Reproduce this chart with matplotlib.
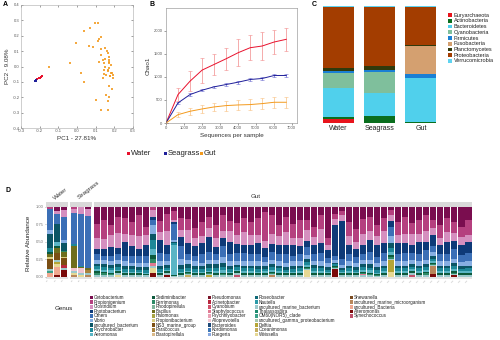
import matplotlib
matplotlib.use("Agg")
import matplotlib.pyplot as plt
from matplotlib.patches import Rectangle
import numpy as np

plt.rcParams.update({
    "font.family": ["Liberation Sans", "DejaVu Sans"],
    "font.size": 4,
    "axes.linewidth": 0.4,
    "xtick.major.width": 0.4,
    "ytick.major.width": 0.4,
    "xtick.major.size": 1.5,
    "ytick.major.size": 1.5,
    "xtick.major.pad": 1,
    "ytick.major.pad": 1,
    "xtick.color": "#555555",
    "ytick.color": "#555555",
})

W, H = 500, 340

WATER = "#e8112d"
SEAGRASS = "#1f1f9a"
GUT = "#f39a1e"

# ---- A: PCoA ----
water_pc1 = [-0.213, -0.205, -0.198, -0.192, -0.187]
water_pc2 = [-0.082, -0.078, -0.074, -0.069, -0.065]
seagrass_pc1 = [-0.225, -0.220, -0.217]
seagrass_pc2 = [-0.097, -0.093, -0.089]
gut_pc1 = [0.113, 0.094, 0.067, 0.040, 0.120, 0.129, 0.115, -0.004, 0.063, 0.085,
           0.129, 0.152, 0.164, 0.129, 0.173, 0.138, 0.170, 0.120, 0.143, 0.173,
           -0.039, 0.152, 0.173, 0.147, 0.164, 0.182, 0.156, 0.178, 0.138, 0.023,
           0.040, 0.188, 0.156, 0.173, 0.102, 0.164, 0.129, 0.164, -0.149, 0.191,
           0.195, 0.170, 0.150, 0.165, 0.180, 0.160, 0.175, 0.185, 0.145, 0.170]
gut_pc2 = [0.281, 0.285, 0.249, 0.234, 0.177, 0.190, 0.169, 0.151, 0.134, 0.130,
           0.112, 0.119, 0.086, 0.076, 0.065, 0.043, 0.043, 0.032, 0.022, 0.022,
           0.022, 0.000, -0.011, -0.022, -0.032, -0.043, -0.054, -0.065, -0.076, -0.043,
           -0.104, -0.147, -0.184, -0.199, -0.216, -0.227, -0.281, -0.285, -0.006, -0.076,
           -0.054, -0.125, 0.050, -0.020, 0.010, 0.100, -0.060, -0.040, -0.050, 0.030]
pc1_ticks = [-0.3, -0.2, -0.1, 0.0, 0.1, 0.2, 0.3]
pc2_ticks = [-0.4, -0.3, -0.2, -0.1, 0.0, 0.1, 0.2, 0.3, 0.4]

# ---- B: rarefaction (Chao1) ----
depth = [0, 670, 1340, 2010, 2680, 3350, 4020, 4690, 5360, 6030, 6700]
water_chao = [0, 616, 906, 1145, 1268, 1391, 1522, 1630, 1667, 1754, 1812]
water_sd = [0, 150, 220, 270, 230, 235, 290, 270, 300, 250, 250]
seagrass_chao = [0, 435, 616, 710, 783, 833, 884, 942, 964, 1029, 1029]
seagrass_sd = [0, 20, 25, 20, 25, 25, 30, 30, 30, 35, 30]
gut_chao = [0, 181, 254, 304, 348, 377, 391, 399, 420, 449, 449]
gut_sd = [0, 60, 80, 90, 95, 110, 110, 110, 120, 120, 120]

# ---- C: phylum composition (%) ----
habitats = ["Water", "Seagrass", "Gut"]
phyla = ["Euryarchaeota", "Actinobacteria", "Bacteroidetes", "Cyanobacteria",
         "Firmicutes", "Fusobacteria", "Planctomycetes", "Proteobacteria",
         "Verrucomicrobia"]
phylum_colors = ["#e8141c", "#0a6e1e", "#50d0ec", "#7fbf9c", "#1a7fd4",
                 "#d4a070", "#303a0c", "#a33d00", "#5fd3f0"]
water_phyla = [3.7, 1.4, 25.0, 12.6, 1.7, 0.0, 2.9, 51.6, 1.1]
seagrass_phyla = [0.0, 5.7, 20.0, 18.0, 2.0, 0.0, 3.1, 50.1, 1.1]
gut_phyla = [0.0, 1.1, 37.1, 0.5, 2.9, 24.0, 1.4, 31.9, 1.1]

# ---- D: genus composition per sample ----
genera = [
    "Cetobacterium", "Propionigenium", "Clostridium", "Photobacterium", "Others",
    "Vibrio", "uncultured_bacterium", "Psychrobacter", "Aeromonas",
    "Sediminibacter", "Ferrimonas", "Rhodopirellula", "Bacillus", "Halomonas",
    "Propionibacterium", "NS3_marine_group", "Paracoccus", "Blastopirellula",
    "Pseudomonas", "Acinetobacter", "Cyanobium", "Staphylococcus",
    "Psychrilyobacter", "Alloprevotella", "Bacteroides", "Kordiimonas", "Ruegeria",
    "Roseobacter", "Nautella", "uncultured_marine_bacterium", "Thalassospira",
    "OM60(NOR5)_clade", "uncultured_gamma_proteobacterium", "Delftia",
    "Oceanimonas", "Weissella",
    "Shewanella", "uncultured_marine_microorganism", "uncultured_Bacteria",
    "Alteromonas", "Synechococcus",
]
genus_colors = [
    "#7a0d4f", "#b5407f", "#d58fbf", "#0e3a78", "#3b6fb6", "#86aee2", "#0b5565", "#1d8898", "#5ab5c5",
    "#0c5a3c", "#2d8a66", "#7fb39a", "#6e6e1e", "#a8a444", "#d9cd80", "#7a4e14", "#a8823e", "#d9b98a",
    "#7a1428", "#b8283e", "#d0506a", "#e07a92", "#eaa0b4", "#f2c4d0", "#1e4a78", "#3f78b8", "#88a8e0",
    "#0f6a78", "#2a9aa8", "#9cc9cc", "#1e8a6e", "#3aa088", "#a6c7ad", "#b5a535", "#c5ad5c", "#e6d894",
    "#7a4a20", "#b8865a", "#f0a890", "#7a0a0a", "#c0506a",
]

water_samples = [
    {1: 3, 4: 30, 5: 5, 6: 21, 7: 5, 9: 3, 12: 4, 14: 3, 15: 15, 29: 3, 31: 3, 38: 5},
    {0: 6, 2: 3, 4: 15, 6: 24, 8: 6, 9: 3, 12: 6, 15: 10, 29: 3, 33: 3, 35: 4, 38: 10, 39: 3},
    {0: 4, 2: 10, 4: 33, 5: 4, 6: 12, 10: 2, 12: 6, 14: 2, 15: 10, 19: 5, 29: 2, 39: 10},
]
seagrass_samples = [
    {1: 3, 2: 6, 4: 44, 7: 3, 12: 32, 23: 4, 29: 3, 35: 2, 37: 3},
    {2: 10, 4: 74, 7: 2, 12: 2, 23: 7, 29: 3, 35: 2},
    {0: 3, 2: 10, 4: 74, 12: 3, 16: 4, 29: 3, 37: 3},
]
gut_cols = [0, 1, 2, 3, 4, 5, 6, 7, 8, 9, 10, 29]
gut_rows = [
    [24, 20, 16, 8, 8, 5, 4, 4, 3, 3, 2, 3],
    [18, 28, 14, 10, 6, 6, 4, 5, 2, 2, 2, 3],
    [26, 14, 18, 12, 8, 5, 4, 4, 3, 2, 1, 3],
    [14, 24, 22, 8, 10, 6, 4, 4, 2, 2, 1, 3],
    [16, 22, 12, 20, 8, 6, 5, 4, 2, 2, 1, 2],
    [22, 18, 16, 14, 10, 5, 4, 4, 2, 2, 1, 2],
    [12, 30, 18, 10, 10, 6, 4, 3, 2, 2, 1, 2],
    [28, 12, 14, 16, 10, 6, 4, 4, 2, 1, 1, 2],
    [0, 4, 12, 4, 8, 14, 8, 14, 10, 6, 6, 4],
    [20, 16, 12, 18, 12, 6, 5, 4, 2, 2, 1, 2],
    [10, 26, 20, 14, 10, 6, 4, 3, 2, 2, 1, 2],
    [6, 12, 4, 2, 24, 2, 2, 2, 44, 1, 0, 1],
    [16, 18, 10, 12, 20, 8, 6, 4, 2, 2, 1, 2],
    [18, 16, 18, 16, 10, 6, 5, 4, 2, 2, 1, 2],
    [30, 14, 12, 14, 8, 6, 5, 4, 2, 2, 1, 2],
    [22, 20, 10, 16, 12, 5, 4, 4, 2, 2, 1, 2],
    [14, 16, 14, 22, 12, 6, 5, 4, 2, 2, 1, 2],
    [26, 18, 14, 10, 8, 6, 5, 5, 3, 2, 1, 2],
    [12, 22, 10, 12, 16, 8, 6, 5, 3, 2, 2, 2],
    [20, 14, 16, 18, 10, 6, 5, 4, 2, 2, 1, 2],
    [24, 18, 12, 14, 12, 5, 4, 4, 2, 2, 1, 2],
    [16, 20, 18, 12, 12, 6, 4, 4, 3, 2, 1, 2],
    [22, 18, 14, 14, 10, 6, 4, 4, 3, 2, 1, 2],
    [16, 24, 12, 16, 10, 6, 5, 4, 2, 2, 1, 2],
    [8, 44, 10, 14, 8, 6, 4, 4, 3, 2, 1, 2],
    [12, 28, 14, 12, 12, 6, 4, 4, 3, 2, 1, 2],
    [26, 16, 12, 14, 10, 6, 4, 4, 3, 2, 1, 2],
    [14, 22, 18, 14, 12, 6, 4, 3, 2, 2, 1, 2],
    [24, 20, 10, 16, 8, 6, 5, 4, 2, 2, 1, 2],
    [18, 26, 12, 12, 10, 6, 4, 4, 3, 2, 1, 2],
    [20, 14, 16, 10, 12, 6, 4, 4, 3, 2, 1, 2],
    [28, 14, 12, 12, 10, 6, 4, 4, 3, 2, 1, 2],
    [12, 20, 20, 14, 12, 6, 4, 4, 3, 2, 1, 2],
    [46, 10, 8, 12, 8, 6, 4, 3, 2, 2, 1, 2],
    [10, 8, 8, 46, 6, 4, 2, 2, 1, 1, 1, 1],
    [6, 6, 8, 54, 8, 4, 3, 3, 2, 2, 1, 2],
    [22, 20, 12, 14, 10, 6, 4, 4, 3, 2, 1, 2],
    [32, 18, 10, 12, 8, 6, 4, 3, 2, 2, 1, 2],
    [18, 22, 16, 12, 10, 6, 4, 4, 3, 2, 1, 2],
    [14, 20, 14, 16, 12, 6, 5, 4, 3, 2, 2, 2],
    [26, 16, 12, 18, 8, 6, 4, 4, 2, 2, 1, 1],
    [16, 18, 18, 14, 12, 6, 4, 4, 3, 2, 1, 2],
    [4, 6, 8, 8, 12, 10, 6, 6, 4, 3, 2, 2],
    [22, 18, 12, 16, 10, 6, 4, 4, 3, 2, 1, 2],
    [14, 24, 14, 14, 12, 6, 4, 4, 3, 2, 1, 2],
    [24, 16, 16, 12, 10, 6, 4, 4, 3, 2, 1, 2],
    [18, 20, 12, 18, 10, 6, 4, 4, 3, 2, 1, 2],
    [12, 22, 16, 12, 14, 6, 4, 4, 3, 2, 2, 3],
    [20, 12, 12, 16, 10, 6, 4, 4, 3, 2, 1, 2],
    [26, 18, 10, 14, 10, 6, 4, 4, 3, 2, 1, 2],
    [16, 20, 14, 18, 10, 6, 4, 4, 3, 2, 1, 2],
    [22, 16, 12, 12, 14, 6, 5, 4, 3, 2, 2, 2],
    [28, 14, 12, 14, 10, 6, 4, 3, 3, 2, 1, 2],
    [18, 22, 10, 16, 12, 6, 4, 4, 3, 2, 1, 2],
]
# (gut sample, genus, abundance) for the less common genera
gut_extra = [
    (3, 35, 2), (8, 21, 4), (8, 35, 8), (8, 39, 5), (10, 39, 3), (13, 34, 2),
    (16, 33, 2), (20, 40, 3), (25, 37, 2), (30, 35, 10), (34, 39, 12), (38, 21, 2),
    (42, 33, 16), (42, 35, 6), (45, 40, 3), (48, 37, 12), (48, 39, 4), (51, 39, 2),
]


def px_axes(fig, left, top, right, bottom):
    return fig.add_axes([left / W, 1 - bottom / H, (right - left) / W, (bottom - top) / H])


def abundance_matrix(samples):
    m = np.zeros((len(samples), len(genera)))
    for i, s in enumerate(samples):
        for g, v in s.items():
            m[i, g] = v
    return m / m.sum(axis=1, keepdims=True)


def stacked_genus_bars(ax, m):
    x = np.arange(m.shape[0])
    # first genus sits on top of the stack
    below = np.cumsum(m[:, ::-1], axis=1)[:, ::-1] - m
    for g in range(len(genera)):
        ax.bar(x, m[:, g], bottom=below[:, g], width=0.86, color=genus_colors[g], lw=0)
    ax.set_xlim(-0.5, m.shape[0] - 0.5)
    ax.set_ylim(-0.025, 1.0)
    ax.axhspan(-0.025, 0, color="#e4e4e4", lw=0, zorder=0)
    for s in ax.spines.values():
        s.set_visible(False)
    ax.tick_params(axis="x", length=0, pad=0.5)
    ax.tick_params(axis="y", length=1, pad=0.8, labelsize=3, colors="#777777")


fig = plt.figure(figsize=(W / 100, H / 100), dpi=100)
ov = fig.add_axes([0, 0, 1, 1])
ov.set_xlim(0, W)
ov.set_ylim(H, 0)
ov.axis("off")

# ---------- A ----------
ax = px_axes(fig, 21, 5, 133, 128)
ax.scatter(gut_pc1, gut_pc2, s=4, marker="s", color=GUT, alpha=0.85, lw=0)
ax.scatter(water_pc1, water_pc2, s=4, marker="s", color=WATER, lw=0)
ax.scatter(seagrass_pc1, seagrass_pc2, s=4, marker="s", color=SEAGRASS, lw=0)
ax.set_xlim(-0.3, 0.3)
ax.set_ylim(-0.4, 0.4)
ax.set_xticks(pc1_ticks)
ax.set_xticklabels([f"{t:.1f}" for t in pc1_ticks], fontsize=3)
ax.set_yticks(pc2_ticks)
ax.set_yticklabels([f"{t:.1f}" for t in pc2_ticks], fontsize=3)
ax.tick_params(top=True, right=True, direction="in")
for s in ax.spines.values():
    s.set_color("#aaaaaa")
ax.set_xlabel("PC1 - 27.81%", fontsize=4.5, labelpad=2, color="#333333")
ax.set_ylabel("PC2 - 9.08%", fontsize=4.5, labelpad=2, color="#333333")

# ---------- B ----------
ax = px_axes(fig, 166, 8, 297, 123)
for mean, sd, col, ecol in [(water_chao, water_sd, WATER, "#f28a8a"),
                            (seagrass_chao, seagrass_sd, SEAGRASS, "#6a6ad0"),
                            (gut_chao, gut_sd, GUT, "#f8c080")]:
    ax.errorbar(depth, mean, yerr=sd, color=col, ecolor=ecol, lw=0.7,
                elinewidth=0.5, capsize=1.2, capthick=0.4)
ax.set_xlim(0, 7300)
ax.set_ylim(0, 2490)
ax.set_xticks(range(0, 7001, 1000))
ax.set_yticks(range(0, 2001, 500))
ax.tick_params(labelsize=3)
for s in ax.spines.values():
    s.set_color("#888888")
ax.set_xlabel("Sequences per sample", fontsize=4.5, labelpad=2, color="#333333")
ax.set_ylabel("Chao1", fontsize=4.5, labelpad=2, color="#333333")

# legend shared by A and B
for xs, label, col in [(128, "Water", WATER), (165, "Seagrass", SEAGRASS), (201, "Gut", GUT)]:
    ov.add_patch(Rectangle((xs - 1.5, 151.5), 3, 3, color=col, lw=0))
    ov.text(xs + 2.5, 153.2, label, fontsize=5.5, va="center", ha="left", color="#222222")

# ---------- C ----------
ax = px_axes(fig, 318, 6, 441.5, 123)
xc = np.arange(len(habitats))
comp = np.array([water_phyla, seagrass_phyla, gut_phyla])
base = np.zeros(len(habitats))
for i, name in enumerate(phyla):
    ax.bar(xc, comp[:, i], bottom=base, width=0.75, color=phylum_colors[i], lw=0)
    base += comp[:, i]
ax.set_xlim(-0.5, 2.5)
ax.set_ylim(0, 100)
ax.set_xticks(xc)
ax.set_xticklabels(habitats, fontsize=5, color="#222222")
ax.set_yticks([])
ax.tick_params(axis="x", length=0, pad=1.5)
for s in ax.spines.values():
    s.set_visible(False)
for i, name in enumerate(phyla):
    y = 15 + i * 5.75
    ov.add_patch(Rectangle((448, y - 1.8), 4, 3.6, color=phylum_colors[i], lw=0))
    ov.text(453.5, y, name, fontsize=4, va="center", ha="left", color="#222222")

# ---------- D ----------
water_m = abundance_matrix(water_samples)
seagrass_m = abundance_matrix(seagrass_samples)
gut_samples = [dict(zip(gut_cols, row)) for row in gut_rows]
for s, g, v in gut_extra:
    gut_samples[s][g] = gut_samples[s].get(g, 0) + v
gut_m = abundance_matrix(gut_samples)

facets = [("Water", water_m, 46, 68), ("Seagrass", seagrass_m, 70, 91.5),
          ("Gut", gut_m, 93.5, 472)]
for k, (name, m, x0, x1) in enumerate(facets):
    ax = px_axes(fig, x0, 207, x1, 278.5)
    stacked_genus_bars(ax, m)
    ax.set_xticks(np.arange(m.shape[0]))
    ax.set_xticklabels([f"{name[0]}{i + 1}" for i in range(m.shape[0])],
                       fontsize=1.6, rotation=45, ha="right", color="#aaaaaa")
    if k == 0:
        ax.set_yticks([0, 0.25, 0.5, 0.75, 1.0])
        ax.set_yticklabels(["0.00", "0.25", "0.50", "0.75", "1.00"])
    else:
        ax.set_yticks([])
    ov.add_patch(Rectangle((x0, 201.5), x1 - x0, 5, color="#d9d9d9", lw=0))

ov.text(53, 201, "Water", fontsize=4.5, rotation=38, ha="left", va="bottom", color="#333333")
ov.text(77, 200.5, "Seagrass", fontsize=4.5, rotation=38, ha="left", va="bottom", color="#333333")
ov.text(251, 199.5, "Gut", fontsize=4.5, ha="left", va="bottom", color="#333333")
ov.text(28, 243, "Relative Abundance", fontsize=4.5, rotation=90, ha="center",
        va="center", color="#222222")

# genus legend, filled column by column
ov.text(55, 309, "Genus", fontsize=4.5, ha="left", va="center", color="#222222")
col_x = [90, 152, 208, 255, 350]
for g, name in enumerate(genera):
    c, r = divmod(g, 9)
    y = 297.5 + r * 4.6
    ov.add_patch(Rectangle((col_x[c], y - 1.8), 2.6, 3.6, color=genus_colors[g], lw=0))
    ov.text(col_x[c] + 3.8, y, name, fontsize=3.3, ha="left", va="center", color="#222222")

# panel letters
for x, y, letter in [(3, 4, "A"), (150, 5, "B"), (312, 5, "C"), (5, 190, "D")]:
    ov.text(x, y, letter, fontsize=5, fontweight="bold", ha="left", va="center")

fig.savefig("out.png", dpi=100)
plt.close(fig)
